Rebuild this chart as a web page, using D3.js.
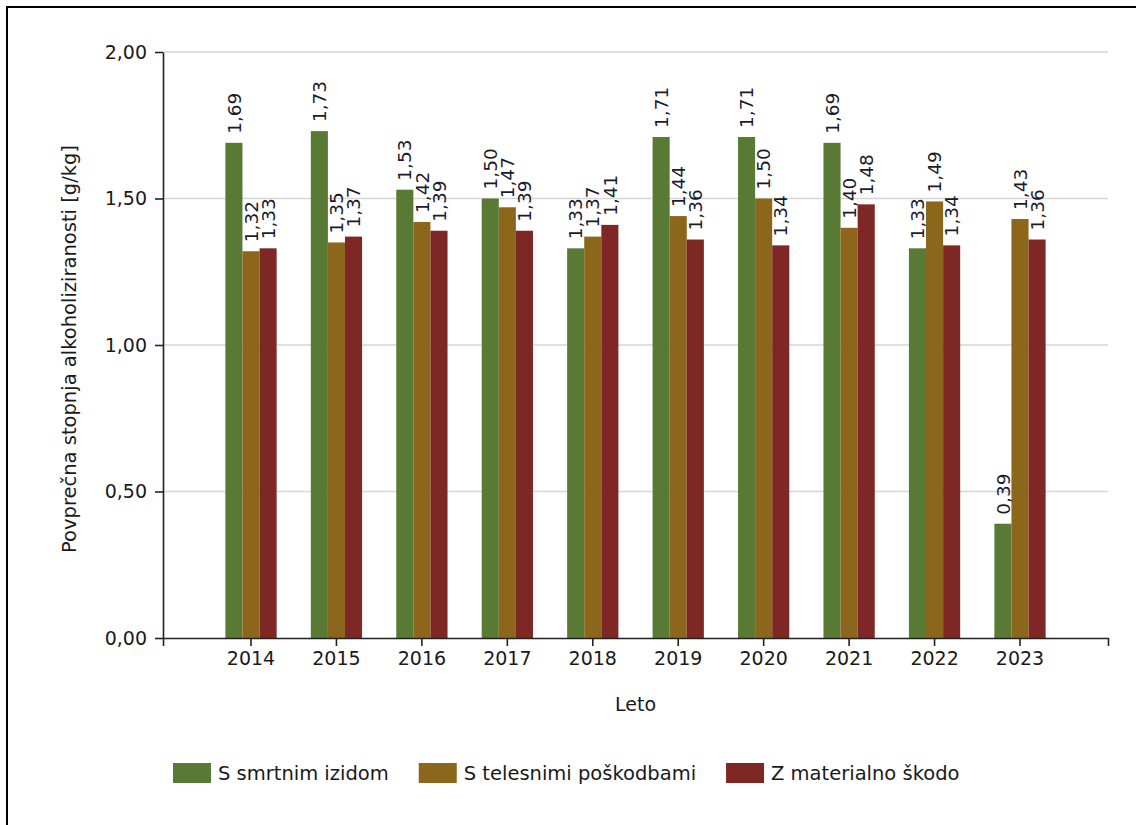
<!DOCTYPE html>
<html>
<head>
<meta charset="utf-8">
<script src="https://cdn.jsdelivr.net/npm/d3@7"></script>
<style>
  html, body { margin: 0; padding: 0; background: #fff; }
  svg { display: block; }
  text { font-family: "DejaVu Sans", Verdana, sans-serif; }
</style>
</head>
<body>
<svg id="chart" width="1136" height="825"></svg>
<script>
// ---- data ----
const years = ["2014", "2015", "2016", "2017", "2018", "2019", "2020", "2021", "2022", "2023"];
const sSmrtnimIzidom = [1.69, 1.73, 1.53, 1.50, 1.33, 1.71, 1.71, 1.69, 1.33, 0.39];
const sTelesnimiPoskodbami = [1.32, 1.35, 1.42, 1.47, 1.37, 1.44, 1.50, 1.40, 1.49, 1.43];
const zMaterialnoSkodo = [1.33, 1.37, 1.39, 1.39, 1.41, 1.36, 1.34, 1.48, 1.34, 1.36];
const seriesLabels = ["S smrtnim izidom", "S telesnimi poškodbami", "Z materialno škodo"];
const seriesColors = ["#597a35", "#8c661b", "#7f2725"];
const yTickValues = [0, 0.5, 1.0, 1.5, 2.0];
const xTitle = "Leto";
const yTitle = "Povprečna stopnja alkoholiziranosti [g/kg]";

(function () {
const seriesValues = [sSmrtnimIzidom, sTelesnimiPoskodbami, zMaterialnoSkodo];

// ---- layout ----
const svg = d3.select("#chart");
const pLeft = 163, pRight = 1108, pTop = 52, pBottom = 638;
const fmt = d => d.toFixed(2).replace(".", ",");

// outer frame
svg.append("rect")
  .attr("x", 7).attr("y", 7).attr("width", 1150).attr("height", 840)
  .attr("fill", "none").attr("stroke", "#000").attr("stroke-width", 2);

const x = d3.scaleBand().domain(years).range([pLeft, pRight]).paddingInner(0).paddingOuter(0.53);
const y = d3.scaleLinear().domain([0, 2]).range([pBottom, pTop]);
const barW = x.bandwidth() * 0.2;

// gridlines
svg.append("g").selectAll("line")
  .data(yTickValues.filter(v => v > 0))
  .join("line")
  .attr("x1", pLeft).attr("x2", pRight)
  .attr("y1", d => y(d)).attr("y2", d => y(d))
  .attr("stroke", "#d6d6d6").attr("stroke-width", 1.5);

// bars
const groups = svg.append("g");
seriesValues.forEach((vals, si) => {
  groups.append("g").selectAll("rect")
    .data(vals.map((v, i) => ({ year: years[i], v })))
    .join("rect")
    .attr("x", d => x(d.year) + x.bandwidth() / 2 + (si - 1.5) * barW)
    .attr("y", d => y(d.v))
    .attr("width", barW)
    .attr("height", d => y(0) - y(d.v))
    .attr("fill", seriesColors[si]);
});

// value labels
seriesValues.forEach((vals, si) => {
  svg.append("g").selectAll("text")
    .data(vals.map((v, i) => ({ year: years[i], v })))
    .join("text")
    .attr("transform", d => {
      const cx = x(d.year) + x.bandwidth() / 2 + (si - 1) * barW;
      return `translate(${cx},${y(d.v) - 9}) rotate(-90)`;
    })
    .attr("dy", "0.36em")
    .attr("font-size", 18.5)
    .attr("fill", "#1a1a2a")
    .text(d => fmt(d.v));
});

// axes
const xAxis = svg.append("g")
  .attr("transform", `translate(0,${pBottom})`)
  .call(d3.axisBottom(x).tickSize(8).tickSizeOuter(8).tickPadding(6));
const yAxis = svg.append("g")
  .attr("transform", `translate(${pLeft},0)`)
  .call(d3.axisLeft(y).tickValues(yTickValues).tickFormat(fmt).tickSize(8).tickSizeOuter(0).tickPadding(8));

[xAxis, yAxis].forEach(g => {
  g.selectAll("path, line").attr("stroke", "#222").attr("stroke-width", 1.6);
  g.selectAll("text").attr("font-size", 19).attr("fill", "#1a1a1a")
    .attr("font-family", "DejaVu Sans, Verdana, sans-serif");
});

// axis titles
svg.append("text")
  .attr("x", (pLeft + pRight) / 2).attr("y", 711)
  .attr("text-anchor", "middle").attr("font-size", 19).attr("fill", "#1a1a1a")
  .text(xTitle);
svg.append("text")
  .attr("transform", `translate(76,${(pTop + pBottom) / 2 + 4}) rotate(-90)`)
  .attr("text-anchor", "middle").attr("font-size", 19.5).attr("fill", "#1a1a1a")
  .text(yTitle);

// legend
const legend = svg.append("g");
const items = legend.selectAll("g").data(seriesLabels).join("g");
items.append("rect")
  .attr("width", 38).attr("height", 20).attr("y", -10)
  .attr("fill", (d, i) => seriesColors[i]);
items.append("text")
  .attr("x", 45).attr("dy", "0.35em")
  .attr("font-size", 19.5).attr("fill", "#1a1a1a")
  .text(d => d);
let acc = 0;
const offs = [];
items.each(function () {
  const w = this.getBBox().width;
  offs.push(acc);
  acc += w + 30;
});
const start = 173;
items.attr("transform", (d, i) => `translate(${start + offs[i]},773)`);
})();
</script>
</body>
</html>
